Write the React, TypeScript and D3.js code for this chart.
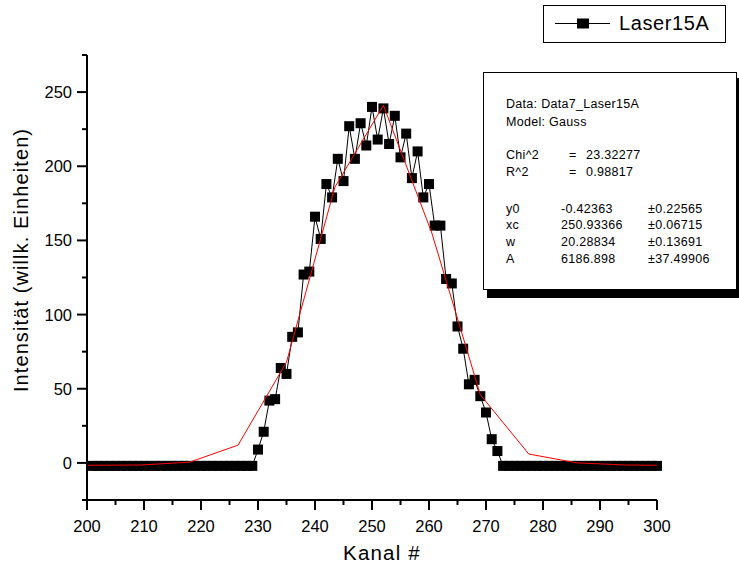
import React from "react";
import * as d3 from "d3";

// Measured intensity per channel (Kanal 201..300)
const channelStart = 201;
const intensity: number[] = [
  -2, -2, -2, -2, -2, -2, -2, -2, -2, -2,
  -2, -2, -2, -2, -2, -2, -2, -2, -2, -2,
  -2, -2, -2, -2, -2, -2, -2, -2, -2,
  9, 21, 42, 43, 64, 60, 85, 88, 127, 129,
  166, 151, 188, 179, 205, 190, 227, 205, 229, 214,
  240, 218, 239, 215, 234, 206, 222, 192, 210, 179,
  188, 160, 160, 124, 121, 92, 77, 53, 56, 45,
  34, 16, 8,
  -2, -2, -2, -2, -2, -2, -2, -2, -2, -2,
  -2, -2, -2, -2, -2, -2, -2, -2, -2, -2,
  -2, -2, -2, -2, -2, -2, -2, -2,
];

// Gauss fit curve vertices as drawn
const fitX = [200, 209.5, 218, 226.5, 235, 243.5, 252, 260.5, 269, 277.5, 286, 294.5, 300];
const fitY = [-1.6, -1.4, 0.5, 12, 68, 186, 241, 155, 46, 6, 0, -1.4, -1.6];

const xMajor = [200, 210, 220, 230, 240, 250, 260, 270, 280, 290, 300];
const xMinor = [205, 215, 225, 235, 245, 255, 265, 275, 285, 295];
const yMajor = [0, 50, 100, 150, 200, 250];
const yMinor = [-25, 25, 75, 125, 175, 225, 275];

const statsHeader = ["Data: Data7_Laser15A", "Model: Gauss"];
const statsFit = [
  ["Chi^2", "=", "23.32277"],
  ["R^2", "=", "0.98817"],
];
const paramNames = ["y0", "xc", "w", "A"];
const paramValues = ["-0.42363", "250.93366", "20.28834", "6186.898"];
const paramErrors = ["±0.22565", "±0.06715", "±0.13691", "±37.49906"];

const seriesName = "Laser15A";
const xTitle = "Kanal #";
const yTitle = "Intensität (willk. Einheiten)";

const FONT = "'Liberation Sans', Arial, Helvetica, sans-serif";

export default function App() {
  const W = 739, H = 573;
  const x = d3.scaleLinear().domain([200, 300]).range([87, 657]);
  const y = d3.scaleLinear().domain([-25, 275]).range([500, 55]);

  const pts = intensity.map((v, i) => [channelStart + i, v] as [number, number]);
  const line = d3.line<[number, number]>().x(d => x(d[0])).y(d => y(d[1]));
  const dataPath = line(pts) || "";
  const fitPath = line(fitX.map((fx, i) => [fx, fitY[i]] as [number, number])) || "";

  const ms = 10;
  const x0 = x(200), yb = y(-25);

  return (
    <svg width={W} height={H} style={{ position: "absolute", left: 0, top: 0, background: "#fff" }} fontFamily={FONT}>
      <rect x={0} y={0} width={W} height={H} fill="#fff" />
      {/* data */}
      <path d={dataPath} fill="none" stroke="#000" strokeWidth={1} />
      {pts.map((p, i) => (
        <rect key={i} x={x(p[0]) - ms / 2} y={y(p[1]) - ms / 2} width={ms} height={ms} fill="#000" />
      ))}
      <path d={fitPath} fill="none" stroke="#ff0000" strokeWidth={1} />

      {/* axes */}
      <line x1={x0} x2={x0} y1={y(275)} y2={yb} stroke="#000" strokeWidth={2} />
      <line x1={x0} x2={x(300)} y1={yb} y2={yb} stroke="#000" strokeWidth={2} />
      {yMajor.map(v => (
        <g key={"ym" + v}>
          <line x1={x0 - 10} x2={x0} y1={y(v)} y2={y(v)} stroke="#000" strokeWidth={2} />
          <text x={72} y={y(v)} dy="0.36em" textAnchor="end" fontSize={16.5}>{v}</text>
        </g>
      ))}
      {yMinor.map(v => (
        <line key={"yn" + v} x1={x0 - 5} x2={x0} y1={y(v)} y2={y(v)} stroke="#000" strokeWidth={2} />
      ))}
      {xMajor.map(v => (
        <g key={"xm" + v}>
          <line x1={x(v)} x2={x(v)} y1={yb} y2={yb + 10} stroke="#000" strokeWidth={2} />
          <text x={x(v)} y={532} textAnchor="middle" fontSize={16.5}>{v}</text>
        </g>
      ))}
      {xMinor.map(v => (
        <line key={"xn" + v} x1={x(v)} x2={x(v)} y1={yb} y2={yb + 5} stroke="#000" strokeWidth={2} />
      ))}
      <text x={382} y={560} textAnchor="middle" fontSize={20.5} letterSpacing={1.2}>{xTitle}</text>
      <text transform={`translate(28,260) rotate(-90)`} textAnchor="middle" fontSize={20} letterSpacing={1.1}>{yTitle}</text>

      {/* legend */}
      <rect x={543.5} y={5.5} width={182} height={37} fill="#fff" stroke="#000" strokeWidth={1} />
      <line x1={555} x2={610} y1={23.5} y2={23.5} stroke="#000" strokeWidth={1} />
      <rect x={583 - 6} y={23.5 - 5} width={12} height={10} fill="#000" />
      <text x={619} y={30} fontSize={20} letterSpacing={0.6}>{seriesName}</text>

      {/* stats box */}
      <rect x={487} y={78} width={255} height={220} fill="#000" />
      <rect x={483.5} y={72.5} width={253} height={217} fill="#fff" stroke="#000" strokeWidth={1} />
      <g fontSize={12.5} letterSpacing={0.3}>
        {statsHeader.map((t, i) => (
          <text key={"h" + i} x={506} y={107.5 + i * 18.5}>{t}</text>
        ))}
        {statsFit.map((r, i) => (
          <g key={"f" + i}>
            <text x={506} y={158.5 + i * 17}>{r[0]}</text>
            <text x={569} y={158.5 + i * 17}>{r[1]}</text>
            <text x={586} y={158.5 + i * 17}>{r[2]}</text>
          </g>
        ))}
        {paramNames.map((n, i) => (
          <g key={"p" + i}>
            <text x={506} y={212.5 + i * 16.8}>{n}</text>
            <text x={561} y={212.5 + i * 16.8}>{paramValues[i]}</text>
            <text x={648} y={212.5 + i * 16.8}>{paramErrors[i]}</text>
          </g>
        ))}
      </g>
    </svg>
  );
}
